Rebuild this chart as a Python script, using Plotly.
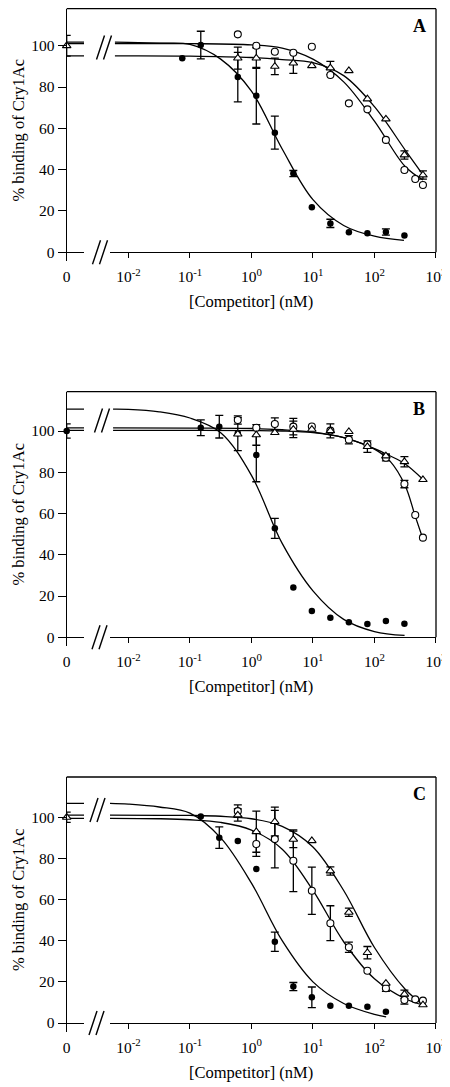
import plotly.graph_objects as go

# page body has an 8 px margin, so the figure is drawn 8 px in from the top-left corner
OFF = 8
W, H = 450 - OFF, 1087 - OFF
FONT = "Liberation Serif, Times New Roman, serif"

# ---------------- data (concentrations in nM, % binding) ----------------
# Panel A
A_filled_x = [0.075, 0.15, 0.6, 1.2, 2.4, 4.8, 9.6, 19.2, 38.4, 76.8, 153.6, 307.2]
A_filled_y = [93.9, 100.3, 84.8, 75.8, 57.9, 38.1, 21.8, 14.0, 9.7, 9.2, 9.8, 8.1]
A_filled_err = [None, 6.7, 12, 13.7, 8, 1.5, None, 2, None, None, 1.5, None]
A_circle_x = [0.6, 1.2, 2.4, 4.8, 9.6, 19.2, 38.4, 76.8, 153.6, 307.2, 460.8, 614.4]
A_circle_y = [105.5, 100.0, 97.1, 96.6, 99.5, 85.8, 72.1, 69.2, 54.4, 39.8, 35.5, 32.6]
A_circle_err = [None] * 12
A_tri_x = [0, 0.6, 1.2, 2.4, 4.8, 9.6, 19.2, 38.4, 76.8, 153.6, 307.2, 614.4]
A_tri_y = [100, 94.0, 94.0, 90.0, 91.6, 90.3, 89.2, 87.9, 74.2, 64.5, 47.1, 37.4]
A_tri_err = [5, 5.3, 5, 4, 5, None, 3.2, None, None, None, 2, 2]
# fitted curves (log10 nM, % binding)
A_fit_filled_lx = [-2.22, -2, -1.5, -1, -0.5, 0, 0.5, 1, 1.5, 2, 2.48]
A_fit_filled_y = [101.7, 101.6, 101.2, 100.6, 93.5, 78, 50, 25.5, 13, 7.8, 5.8]
A_fit_circle_lx = [-2.22, -1, 0, 0.5, 1, 1.5, 2, 2.5, 2.79]
A_fit_circle_y = [101.0, 101.0, 100.4, 98.8, 93.5, 82.5, 63.5, 41.5, 35]
A_fit_tri_lx = [-2.22, -1, 0, 0.5, 1, 1.5, 2, 2.5, 2.79]
A_fit_tri_y = [95.1, 95.0, 94.3, 93.3, 91.8, 85.5, 70.5, 49.5, 37.5]

# Panel B
B_filled_x = [0, 0.15, 0.3, 0.6, 1.2, 2.4, 4.8, 9.6, 19.2, 38.4, 76.8, 153.6, 307.2]
B_filled_y = [100, 101.6, 102.1, 98.9, 88.4, 52.8, 24.2, 12.7, 9.5, 7.3, 6.4, 7.9, 6.6]
B_filled_err = [3.5, 3.8, 5.5, None, 13, 4.8, None, None, None, None, None, None, None]
B_circle_x = [0.6, 1.2, 2.4, 4.8, 9.6, 19.2, 38.4, 76.8, 153.6, 307.2, 460.8, 614.4]
B_circle_y = [105.3, 101.6, 103.4, 102.1, 102.2, 100.2, 95.8, 93.5, 87.0, 74.3, 59.3, 48.3]
B_circle_err = [2, None, 3, 4, None, None, 2, None, 1.5, 1.8, None, None]
B_tri_x = [0.6, 1.2, 2.4, 4.8, 9.6, 19.2, 38.4, 76.8, 153.6, 307.2, 614.4]
B_tri_y = [98.5, 98.1, 99.2, 100.8, 100.8, 100.1, 99.7, 92.4, 87.9, 85.1, 76.4]
B_tri_err = [8, 5, None, 4, None, 3.4, None, 2.8, 1, 2.5, None]
B_fit_filled_lx = [-2.25, -2, -1.5, -1, -0.5, 0, 0.5, 1, 1.5, 2, 2.49]
B_fit_filled_y = [110.6, 110.5, 109.3, 106.3, 99.2, 78.5, 45.5, 22.5, 8.7, 2.8, 0.9]
B_fit_circle_lx = [-2.25, -1, 0, 0.5, 1, 1.5, 2, 2.25, 2.5, 2.66, 2.79]
B_fit_circle_y = [101.5, 101.4, 101.2, 100.6, 99.5, 96.8, 91.2, 85.5, 73.5, 59.0, 47.5]
B_fit_tri_lx = [-2.25, -1, 0, 0.5, 1, 1.5, 2, 2.25, 2.5, 2.79]
B_fit_tri_y = [100.3, 100.3, 100.2, 100.0, 99.2, 96.8, 91.5, 88.0, 84.0, 76.5]

# Panel C
C_filled_x = [0.15, 0.3, 0.6, 1.2, 2.4, 4.8, 9.6, 19.2, 38.4, 76.8, 153.6]
C_filled_y = [100.4, 90.1, 88.5, 74.9, 39.5, 17.7, 12.5, 8.4, 8.4, 7.9, 5.5]
C_filled_err = [None, 5.2, None, None, 4.7, 2, 5, None, None, None, None]
C_circle_x = [0.6, 1.2, 2.4, 4.8, 9.6, 19.2, 38.4, 76.8, 153.6, 307.2, 460.8, 614.4]
C_circle_y = [103.0, 87.0, 89.4, 78.9, 64.3, 48.5, 36.8, 25.4, 16.9, 11.2, 11.5, 10.9]
C_circle_err = [3, 6, 14, 15, 11.5, 8.5, 2.5, None, 1.5, 2, None, None]
C_tri_x = [0, 0.6, 1.2, 2.4, 4.8, 9.6, 19.2, 38.4, 76.8, 153.6, 307.2, 614.4]
C_tri_y = [100, 101.1, 93.0, 97.9, 89.3, 88.6, 73.9, 53.8, 34.2, 19.3, 14.0, 8.8]
C_tri_err = [2.5, 3, 10, 7, 4, None, 2, 2, 3, None, 2, None]
C_fit_filled_lx = [-2.32, -2, -1.5, -1, -0.5, 0, 0.5, 1, 1.5, 2, 2.19]
C_fit_filled_y = [106.8, 106.4, 105.0, 102.0, 90.0, 68.0, 40.0, 20.0, 9.5, 4.2, 3.0]
C_fit_circle_lx = [-2.32, -1.5, -1, -0.5, 0, 0.5, 1, 1.5, 2, 2.5, 2.79]
C_fit_circle_y = [99.5, 99.3, 98.8, 97.5, 93.8, 84.5, 64.5, 39.5, 21.5, 11.8, 8.8]
C_fit_tri_lx = [-2.32, -1, -0.5, 0, 0.5, 1, 1.5, 2, 2.5, 2.79]
C_fit_tri_y = [101.1, 100.9, 100.5, 99.3, 95.6, 85.6, 64.4, 36.7, 16.4, 8.8]

panel_labels = ["A", "B", "C"]
y_ticks = [0, 20, 40, 60, 80, 100]
x_log_ticks = [0.01, 0.1, 1, 10, 100, 1000]
x_log_ticktext = ["10<sup>-2</sup>", "10<sup>-1</sup>", "10<sup>0</sup>",
                  "10<sup>1</sup>", "10<sup>2</sup>", "10<sup>3</sup>"]
x_title = "[Competitor] (nM)"
y_title = "% binding of Cry1Ac"

# ---------------- layout geometry (page pixels) ----------------
# top: frame top, y0: pixel of y=0, y100: pixel of y=100
geom = [
    dict(top=8.7, y0=252.3, y100=45.7, up_c=47.5, up_x=96.5, bot_x=92.5),
    dict(top=391.7, y0=637.3, y100=431.0, up_c=420.5, up_x=94.5, bot_x=92.0),
    dict(top=777.0, y0=1023.0, y100=817.3, up_c=810.0, up_x=90.0, bot_x=89.0),
]
X_LEFT, X_ZERO_END, X_LOG_START, X_RIGHT = 66.7, 84.0, 110.0, 436.0
LW = 1.3


def fx(p):
    return (p - OFF) / W


def fy(p):
    return 1 - (p - OFF) / H


panels = [
    dict(filled=(A_filled_x, A_filled_y, A_filled_err), circle=(A_circle_x, A_circle_y, A_circle_err),
         tri=(A_tri_x, A_tri_y, A_tri_err),
         fits=[(A_fit_filled_lx, A_fit_filled_y), (A_fit_circle_lx, A_fit_circle_y), (A_fit_tri_lx, A_fit_tri_y)]),
    dict(filled=(B_filled_x, B_filled_y, B_filled_err), circle=(B_circle_x, B_circle_y, B_circle_err),
         tri=(B_tri_x, B_tri_y, B_tri_err),
         fits=[(B_fit_filled_lx, B_fit_filled_y), (B_fit_circle_lx, B_fit_circle_y), (B_fit_tri_lx, B_fit_tri_y)]),
    dict(filled=(C_filled_x, C_filled_y, C_filled_err), circle=(C_circle_x, C_circle_y, C_circle_err),
         tri=(C_tri_x, C_tri_y, C_tri_err),
         fits=[(C_fit_filled_lx, C_fit_filled_y), (C_fit_circle_lx, C_fit_circle_y), (C_fit_tri_lx, C_fit_tri_y)]),
]

marker_styles = {
    "filled": dict(symbol="circle", size=6.5, color="black", line=dict(width=0)),
    "circle": dict(symbol="circle", size=7, color="white", line=dict(color="black", width=1.1)),
    "tri": dict(symbol="triangle-up", size=7.5, color="white", line=dict(color="black", width=1.1)),
}

fig = go.Figure()
shapes = []
annotations = []
layout_axes = {}

for i, (p, g) in enumerate(zip(panels, geom)):
    xz = f"x{2 * i + 1}" if i > 0 else "x"
    xl = f"x{2 * i + 2}"
    yy = f"y{i + 1}" if i > 0 else "y"

    # fitted curves on log axis + plateau stubs on zero axis
    for lx, fy_ in p["fits"]:
        fig.add_trace(go.Scatter(x=[10 ** v for v in lx], y=fy_, mode="lines",
                                 line=dict(color="black", width=LW, shape="spline"),
                                 xaxis=xl, yaxis=yy, hoverinfo="skip"))
        fig.add_trace(go.Scatter(x=[0, 1], y=[fy_[0], fy_[0]], mode="lines",
                                 line=dict(color="black", width=LW),
                                 xaxis=xz, yaxis=yy, hoverinfo="skip"))

    # error bars
    for key in ["filled", "circle", "tri"]:
        xs, ys, es = p[key]
        for zero in (True, False):
            pts = [(x, y, e) for x, y, e in zip(xs, ys, es) if (x == 0) == zero and e is not None]
            if not pts:
                continue
            fig.add_trace(go.Scatter(
                x=[q[0] for q in pts], y=[q[1] for q in pts], mode="markers",
                marker=dict(size=1, color="rgba(0,0,0,0)"),
                error_y=dict(type="data", array=[q[2] for q in pts], visible=True,
                             color="black", thickness=LW, width=4),
                xaxis=xz if zero else xl, yaxis=yy, cliponaxis=False, hoverinfo="skip"))

    # markers
    for key in ["filled", "circle", "tri"]:
        xs, ys, es = p[key]
        for zero in (True, False):
            pts = [(x, y) for x, y in zip(xs, ys) if (x == 0) == zero]
            if not pts:
                continue
            fig.add_trace(go.Scatter(
                x=[q[0] for q in pts], y=[q[1] for q in pts], mode="markers",
                marker=marker_styles[key],
                xaxis=xz if zero else xl, yaxis=yy, cliponaxis=False, hoverinfo="skip"))

    ydom = [fy(g["y0"]), fy(g["top"])]
    y_top_val = (g["y0"] - g["top"]) * 100.0 / (g["y0"] - g["y100"])
    tickfont = dict(family=FONT, size=15.5, color="black")
    layout_axes["xaxis" + ("" if i == 0 else str(2 * i + 1))] = dict(
        domain=[fx(X_LEFT), fx(X_ZERO_END)], range=[0, 1], anchor=yy,
        showline=True, linecolor="black", linewidth=LW, ticks="outside", ticklen=8,
        tickwidth=LW, tickcolor="black", tickvals=[0], ticktext=["0"], showgrid=False,
        zeroline=False, tickfont=tickfont, automargin=False, ticklabelstandoff=2, fixedrange=True)
    layout_axes["xaxis" + str(2 * i + 2)] = dict(
        type="log", domain=[fx(X_LOG_START), fx(X_RIGHT)], range=[-2.30, 3.001], anchor=yy,
        showline=True, linecolor="black", linewidth=LW, ticks="outside", ticklen=5,
        tickwidth=LW, tickcolor="black", tickvals=x_log_ticks, ticktext=x_log_ticktext,
        showgrid=False, zeroline=False, tickfont=tickfont, automargin=False,
        ticklabelstandoff=5, fixedrange=True)
    layout_axes["yaxis" + ("" if i == 0 else str(i + 1))] = dict(
        domain=ydom, range=[0, y_top_val], anchor=xz, showline=True, linecolor="black",
        linewidth=LW, ticks="outside", ticklen=8, tickwidth=LW, tickcolor="black",
        tickvals=y_ticks, showgrid=False, zeroline=False, tickfont=tickfont,
        automargin=False, fixedrange=True)

    # frame: top and right borders
    shapes.append(dict(type="line", xref="paper", yref="paper", x0=fx(X_LEFT), x1=fx(X_RIGHT),
                       y0=fy(g["top"]), y1=fy(g["top"]), line=dict(color="black", width=LW)))
    shapes.append(dict(type="line", xref="paper", yref="paper", x0=fx(X_RIGHT), x1=fx(X_RIGHT),
                       y0=fy(g["top"]), y1=fy(g["y0"]), line=dict(color="black", width=LW)))
    # axis break marks
    for bx, bc in ((g["bot_x"], g["y0"]), (g["up_x"], g["up_c"])):
        for off in (0, 7):
            shapes.append(dict(type="line", xref="paper", yref="paper",
                               x0=fx(bx + off), y0=fy(bc + 12), x1=fx(bx + off + 8), y1=fy(bc - 12),
                               line=dict(color="black", width=1.4)))

    common = dict(xref="paper", yref="paper", showarrow=False, xanchor="center", yanchor="middle")
    annotations.append(dict(text="<b>" + panel_labels[i] + "</b>", x=fx(419), y=fy(g["top"] + 17),
                            font=dict(family=FONT, size=18, color="black"), **common))
    annotations.append(dict(text=x_title, x=fx(251), y=fy(g["y0"] + 49),
                            font=dict(family=FONT, size=16.5, color="black"), **common))
    annotations.append(dict(text=y_title, x=fx(18), y=fy((g["top"] + g["y0"]) / 2), textangle=-90,
                            font=dict(family=FONT, size=16.5, color="black"), **common))

fig.update_layout(
    width=W, height=H, margin=dict(l=0, r=0, t=0, b=0),
    paper_bgcolor="white", plot_bgcolor="white", showlegend=False,
    shapes=shapes, annotations=annotations, **layout_axes)

fig.write_html("out.html")
